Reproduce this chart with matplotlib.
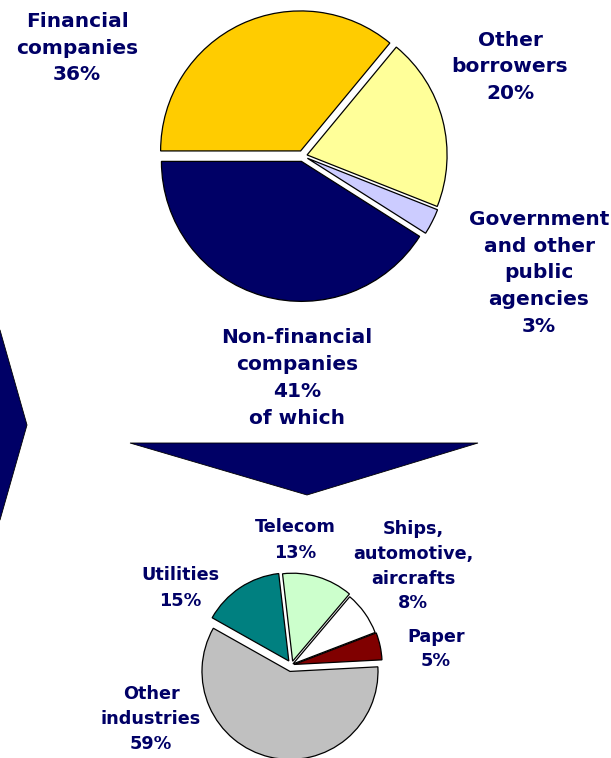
import numpy as np
import matplotlib.pyplot as plt
from matplotlib.patches import Polygon

# ---------- data ----------
top_labels = ['Financial\ncompanies', 'Other\nborrowers',
              'Government\nand other\npublic\nagencies', 'Non-financial\ncompanies']
top_shares = [36, 20, 3, 41]
top_suffix = ['', '', '', '\nof which']
top_colors = ['#FFCC00', '#FFFF99', '#CCCCFF', '#000066']

bottom_labels = ['Other\nindustries', 'Utilities', 'Telecom',
                 'Ships,\nautomotive,\naircrafts', 'Paper']
bottom_shares = [59, 15, 13, 8, 5]
bottom_colors = ['#C0C0C0', '#008080', '#CCFFCC', '#FFFFFF', '#800000']

# ---------- layout (pixels, measured from the top edge) ----------
W, H = 611, 758
navy = '#000066'

top_center = (303, 156)
top_radius = 140
top_explode = [0.04, 0.03, 0.035, 0.04]      # fraction of radius
top_text_pos = [(77, 48), (510, 67), (539, 273), (297, 378)]

bottom_center = (291.5, 665)
bottom_radius = 88
bottom_explode = [0.075, 0.055, 0.045, 0.02, 0.03]
bottom_text_pos = [(151, 719), (180, 588), (295, 540), (413, 566), (436, 649)]


def flip(p):
    return (p[0], H - p[1])


fig = plt.figure(figsize=(W / 100, H / 100), dpi=100)
ax = fig.add_axes([0, 0, 1, 1])

wedge_style = dict(edgecolor='black', linewidth=0.9)

# pie explode is in data units, so scale by the radius
ax.pie(top_shares, colors=top_colors,
       explode=[e * top_radius for e in top_explode], startangle=180,
       counterclock=False, radius=top_radius, center=flip(top_center),
       wedgeprops=wedge_style)
ax.pie(bottom_shares, colors=bottom_colors,
       explode=[e * bottom_radius for e in bottom_explode], startangle=3,
       counterclock=False, radius=bottom_radius, center=flip(bottom_center),
       wedgeprops=wedge_style)

# big chevron on the left and the arrow pointing at the breakdown
chevron = [(-120, 330), (0, 330), (27, 425), (0, 520), (-120, 520)]
ax.add_patch(Polygon([flip(p) for p in chevron], closed=True,
                     facecolor=navy, edgecolor='black', linewidth=0.6))
arrow = [(130, 443), (478, 443), (307, 495)]
ax.add_patch(Polygon([flip(p) for p in arrow], closed=True,
                     facecolor=navy, edgecolor='black', linewidth=0.6))

for lab, share, suf, pos in zip(top_labels, top_shares, top_suffix, top_text_pos):
    x, y = flip(pos)
    ax.text(x, y, f'{lab}\n{share}%{suf}', ha='center', va='center',
            fontsize=14.5, fontweight='bold', color=navy, family='DejaVu Sans',
            linespacing=1.52)

for lab, share, pos in zip(bottom_labels, bottom_shares, bottom_text_pos):
    x, y = flip(pos)
    ax.text(x, y, f'{lab}\n{share}%', ha='center', va='center',
            fontsize=12.7, fontweight='bold', color=navy, family='DejaVu Sans',
            linespacing=1.5)

ax.set_xlim(0, W)
ax.set_ylim(0, H)
ax.set_aspect('auto')
ax.axis('off')

plt.savefig('out.png', dpi=100)
